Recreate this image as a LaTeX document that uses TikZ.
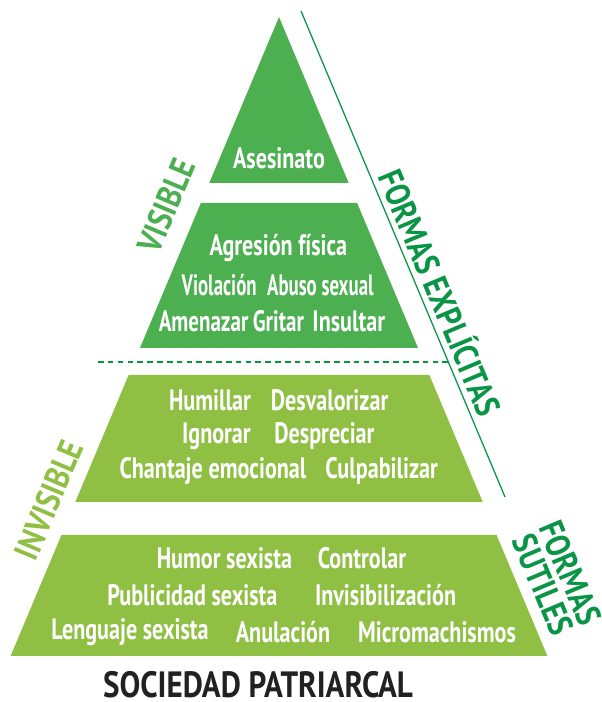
\documentclass[tikz,border=0pt]{standalone}
\usepackage{fontspec}
\setmainfont{PT Sans}
\newfontfamily\estrecha{PT Sans}[FakeStretch=0.75]
\newfontfamily\etiqueta{PT Sans}[FakeStretch=0.85]
\definecolor{verdeA}{RGB}{76,175,80}
\definecolor{verdeB}{RGB}{143,192,68}
\definecolor{verdeC}{RGB}{10,148,70}
\begin{document}
\begin{tikzpicture}[
		item/.style={text=white,font=\estrecha\bfseries\fontsize{21}{24}\selectfont,inner sep=0pt},
		apretado/.style={item,xscale=#1,transform shape},
		lado/.style={font=\etiqueta\bfseries\fontsize{24.5}{24}\selectfont,inner sep=0pt,align=center}]
				\useasboundingbox (0,0) rectangle (15.05,17.55);
				\fill[verdeA] (6.975,17.125) -- (5.232,12.975) -- (8.718,12.975) -- cycle;
				\fill[verdeA] (5.022,12.475) -- (8.928,12.475) -- (10.451,8.85) -- (3.499,8.85) -- cycle;
				\fill[verdeB] (3.216,8.175) -- (10.734,8.175) -- (12.068,5.0) -- (1.882,5.0) -- cycle;
				\fill[verdeB] (1.536,4.175) -- (12.414,4.175) -- (13.685,1.15) -- (0.265,1.15) -- cycle;
				\coordinate (lineaA) at (7.525,17.275);
				\coordinate (lineaB) at (12.625,5.125);
				\coordinate (corteA) at (2.45,8.5);
				\coordinate (corteB) at (11.2,8.5);
				\draw[verdeC,line width=0.9pt] (lineaA) -- (lineaB);
				\draw[verdeC,line width=0.9pt,dash pattern=on 4pt off 3pt] (corteA) -- (corteB);
				% visible
				\node[item] (asesinato) at (6.975,13.6) {Asesinato};
				\node[item] (agresion) at (6.96,11.35) {Agresión física};
				\node[apretado=0.85] (violacion) at (5.48,10.425) {Violación};
				\node[apretado=0.85] (abuso) at (8.01,10.425) {Abuso sexual};
				\node[apretado=0.95] (amenazar) at (5.09,9.525) {Amenazar};
				\node[apretado=0.95] (gritar) at (6.96,9.525) {Gritar};
				\node[item] (insultar) at (8.72,9.525) {Insultar};
				% invisible
				\node[item] (humillar) at (5.25,7.55) {Humillar};
				\node[item] (desvalorizar) at (8.24,7.55) {Desvalorizar};
				\node[item] (ignorar) at (5.41,6.65) {Ignorar};
				\node[item] (despreciar) at (8.11,6.65) {Despreciar};
				\node[item] (chantaje) at (5.325,5.775) {Chantaje emocional};
				\node[item] (culpabilizar) at (9.54,5.775) {Culpabilizar};
				\node[item] (humor) at (5.61,3.6) {Humor sexista};
				\node[item] (controlar) at (9.05,3.6) {Controlar};
				\node[item] (publicidad) at (4.81,2.675) {Publicidad sexista};
				\node[item] (invisibilizacion) at (9.64,2.675) {Invisibilización};
				\node[item] (lenguaje) at (3.25,1.75) {Lenguaje sexista};
				\node[item] (anulacion) at (7.075,1.75) {Anulación};
				\node[item] (micromachismos) at (10.925,1.75) {Micromachismos};
				% etiquetas
				\node[lado,text=verdeA,rotate=67.2] (visible) at (4.15,12.4) {VISIBLE};
				\node[lado,text=verdeB,rotate=67.2] (invisible) at (1.225,5.05) {INVISIBLE};
				\node[lado,text=verdeC,rotate=-67.2] (explicitas) at (11.05,10.25) {FORMAS EXPLÍCITAS};
				\node[lado,text=verdeC,rotate=-67.2] (sutiles) at (13.92,3.08) {FORMAS\\[-3pt]SUTILES};
				\node[lado,text=black!87,font=\etiqueta\bfseries\fontsize{26}{26}\selectfont] (sociedad) at (6.45,0.42) {SOCIEDAD PATRIARCAL};
			\end{tikzpicture}
\end{document}
